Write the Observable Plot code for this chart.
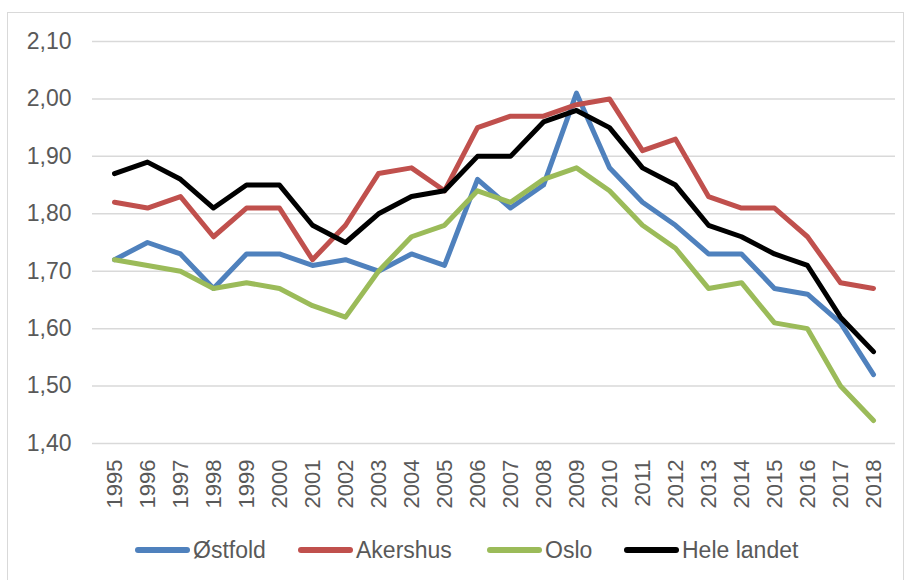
<!DOCTYPE html>
<html>
<head>
<meta charset="utf-8">
<script src="https://cdn.jsdelivr.net/npm/d3@7"></script>
<script src="https://cdn.jsdelivr.net/npm/@observablehq/plot@0.6"></script>
<style>
  html, body { margin: 0; padding: 0; background: #fff; }
  body { width: 912px; height: 580px; position: relative; overflow: hidden; font-family: "Liberation Sans", Arial, sans-serif; }
  #frame { position: absolute; left: 7px; top: 12px; width: 897px; height: 575px; border: 1px solid #d9d9d9; box-sizing: border-box; }
  #chart { position: absolute; left: 0; top: 0; }
  #legend { position: absolute; top: 535px; left: 0; width: 912px; height: 30px; font-size: 23px; color: #595959; }
  .item { position: absolute; top: 0; display: flex; align-items: center; height: 30px; }
  .sw { width: 55px; height: 6px; border-radius: 3px; margin-right: 3px; }
</style>
</head>
<body>
<div id="frame"></div>
<div id="chart"></div>
<div id="legend"></div>
<script>
const years = ["1995","1996","1997","1998","1999","2000","2001","2002","2003","2004","2005","2006","2007","2008","2009","2010","2011","2012","2013","2014","2015","2016","2017","2018"];
const seriesNames = ["Østfold", "Akershus", "Oslo", "Hele landet"];
const ostfold = [1.72,1.75,1.73,1.67,1.73,1.73,1.71,1.72,1.70,1.73,1.71,1.86,1.81,1.85,2.01,1.88,1.82,1.78,1.73,1.73,1.67,1.66,1.61,1.52];
const akershus = [1.82,1.81,1.83,1.76,1.81,1.81,1.72,1.78,1.87,1.88,1.84,1.95,1.97,1.97,1.99,2.00,1.91,1.93,1.83,1.81,1.81,1.76,1.68,1.67];
const oslo = [1.72,1.71,1.70,1.67,1.68,1.67,1.64,1.62,1.70,1.76,1.78,1.84,1.82,1.86,1.88,1.84,1.78,1.74,1.67,1.68,1.61,1.60,1.50,1.44];
const heleLandet = [1.87,1.89,1.86,1.81,1.85,1.85,1.78,1.75,1.80,1.83,1.84,1.90,1.90,1.96,1.98,1.95,1.88,1.85,1.78,1.76,1.73,1.71,1.62,1.56];
const yTicks = [1.4,1.5,1.6,1.7,1.8,1.9,2.0,2.1];
const colors = ["#4F81BD", "#C0504D", "#9BBB59", "#000000"];

const valuesList = [ostfold, akershus, oslo, heleLandet];
const data = [];
seriesNames.forEach((name, i) => {
  years.forEach((y, j) => data.push({ series: name, year: y, value: valuesList[i][j] }));
});

const fmt = d => d3.format(".2f")(d).replace(".", ",");

const plot = Plot.plot({
  width: 912,
  height: 520,
  marginLeft: 92,
  marginRight: 17,
  marginTop: 41,
  marginBottom: 77,
  style: { fontFamily: "Liberation Sans, Arial, sans-serif", fontSize: "23px", color: "#595959", background: "transparent" },
  x: { type: "point", domain: years, padding: 0.5, label: null },
  y: { domain: [1.4, 2.1], label: null },
  color: { domain: seriesNames, range: colors },
  marks: [
    Plot.gridY(yTicks, { stroke: "#d9d9d9", strokeOpacity: 1, strokeWidth: 1.5 }),
    Plot.axisY(yTicks, { tickSize: 0, tickPadding: 21, tickFormat: fmt, fontSize: 23, fill: "#595959", label: null }),
    Plot.axisX({ tickSize: 0, tickRotate: -90, tickPadding: 16, fontSize: 22, fill: "#595959", label: null }),
    Plot.line(data, { x: "year", y: "value", z: "series", stroke: "series", strokeWidth: 5, strokeLinejoin: "round", strokeLinecap: "round" })
  ]
});
document.getElementById("chart").appendChild(plot);

const legend = document.getElementById("legend");
const lefts = [135, 298, 487, 624];
seriesNames.forEach((name, i) => {
  const item = document.createElement("div");
  item.className = "item";
  item.style.left = lefts[i] + "px";
  const sw = document.createElement("div");
  sw.className = "sw";
  sw.style.background = colors[i];
  const tx = document.createElement("span");
  tx.textContent = name;
  item.appendChild(sw);
  item.appendChild(tx);
  legend.appendChild(item);
});
</script>
</body>
</html>
